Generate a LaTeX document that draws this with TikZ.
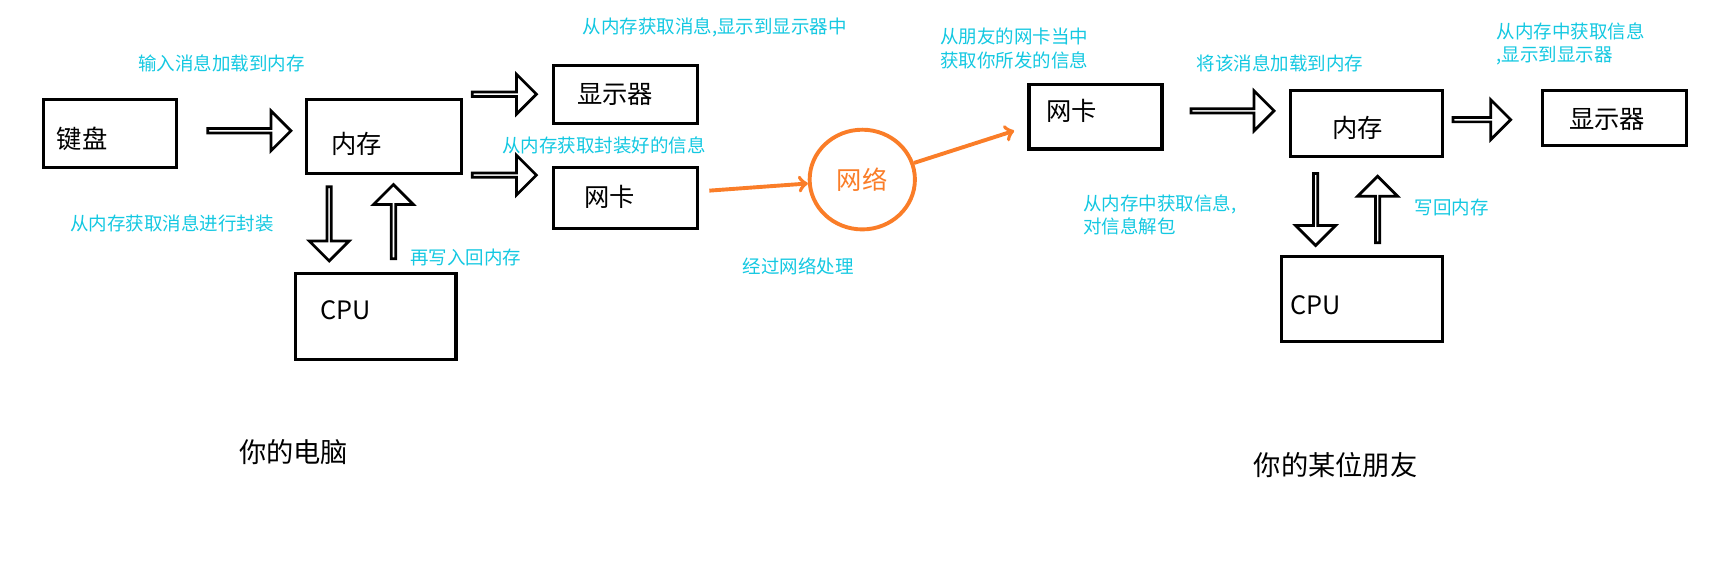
\documentclass[tikz,border=0pt]{standalone}
\usepackage{fontspec}
\setmainfont{Noto Sans CJK SC}
\usetikzlibrary{shapes.arrows,shapes.geometric}
\definecolor{notecyan}{RGB}{20,200,225}
\definecolor{netorange}{RGB}{250,125,40}
\tikzset{
  box/.style={draw,line width=1.6pt,anchor=north west,font=\fontsize{13}{15}\selectfont},
  note/.style={text=notecyan,font=\fontsize{9.5}{12}\selectfont,align=left,inner sep=0pt},
  hollow/.style={single arrow,draw,line width=1.4pt,minimum height=1.5cm,minimum width=0.72cm,
    single arrow head extend=0.2cm,inner sep=0pt},
  title/.style={font=\fontsize{14}{16}\selectfont}
}
\begin{document}
\begin{tikzpicture}[x=0.02cm,y=-0.02cm]
    \useasboundingbox (0,0) rectangle (1560,507);
    % your computer
    \node[box,minimum width=2.4cm,minimum height=1.24cm] (kbd) at (38,88) {};
    \node[anchor=west,font=\fontsize{13}{15}\selectfont] at (45,125) {键盘};
    \node[box,minimum width=2.8cm,minimum height=1.34cm] (mem) at (275,88) {};
    \node[font=\fontsize{13}{15}\selectfont] at (322,130) {内存};
    \node[box,minimum width=2.6cm,minimum height=1.04cm] (disp) at (498,58) {};
    \node[font=\fontsize{13}{15}\selectfont] at (555,85) {显示器};
    \node[box,minimum width=2.6cm,minimum height=1.1cm] (nic) at (498,150) {};
    \node[font=\fontsize{13}{15}\selectfont] at (550,178) {网卡};
    \node[box,minimum width=2.9cm,minimum height=1.56cm] (cpu) at (265,245) {};
    \node[font=\fontsize{13}{15}\selectfont] at (312,280) {CPU};
    \node[hollow] (a1) at (224,118) {};
    \node[hollow,minimum height=1.16cm] (a2) at (454,85) {};
    \node[hollow,minimum height=1.16cm] (a3) at (454,158) {};
    \node[hollow,rotate=-90,minimum height=1.34cm] (a4) at (297,201) {};
    \node[hollow,rotate=90,minimum height=1.34cm] (a5) at (355,201) {};
    % network
    \node[draw=netorange,line width=2pt,ellipse,minimum width=1.9cm,minimum height=1.8cm,
      text=netorange,font=\fontsize{13}{15}\selectfont] (net) at (778,162) {网络};
    \coordinate (n1) at (640,172);
    \coordinate (n2) at (915,118);
    \draw[netorange,line width=2pt,->] (n1) -- (net);
    \draw[netorange,line width=2pt,->] (net) -- (n2);
    % friend's computer
    \node[box,minimum width=2.4cm,minimum height=1.16cm] (fnic) at (927,75) {};
    \node[font=\fontsize{13}{15}\selectfont] at (967,100) {网卡};
    \node[box,minimum width=2.74cm,minimum height=1.2cm] (fmem) at (1163,80) {};
    \node[font=\fontsize{13}{15}\selectfont] at (1225,115) {内存};
    \node[box,minimum width=2.6cm,minimum height=1cm] (fdisp) at (1390,80) {};
    \node[font=\fontsize{13}{15}\selectfont] at (1450,108) {显示器};
    \node[box,minimum width=2.9cm,minimum height=1.54cm] (fcpu) at (1155,230) {};
    \node[font=\fontsize{13}{15}\selectfont] at (1187,275) {CPU};
    \node[hollow] (b1) at (1111,100) {};
    \node[hollow,minimum height=1.04cm] (b2) at (1336,108) {};
    \node[hollow,rotate=-90,minimum height=1.3cm] (b3) at (1187,188) {};
    \node[hollow,rotate=90,minimum height=1.2cm] (b4) at (1243,190) {};
    % notes
    \node[note] at (200,57) {输入消息加载到内存};
    \node[note] at (645,25) {从内存获取消息,显示到显示器中};
    \node[note] at (545,131) {从内存获取封装好的信息};
    \node[note] at (155,202) {从内存获取消息进行封装};
    \node[note] at (420,232) {再写入回内存};
    \node[note] at (720,240) {经过网络处理};
    \node[note,anchor=north west] at (848,25) {从朋友的网卡当中\\获取你所发的信息};
    \node[note] at (1155,57) {将该消息加载到内存};
    \node[note,anchor=north west] at (1350,20) {从内存中获取信息\\,显示到显示器};
    \node[note,anchor=north west] at (977,175) {从内存中获取信息,\\对信息解包};
    \node[note] at (1310,187) {写回内存};
    \node[title] (pc) at (265,408) {你的电脑};
    \node[title] (friend) at (1205,420) {你的某位朋友};
\end{tikzpicture}
\end{document}
